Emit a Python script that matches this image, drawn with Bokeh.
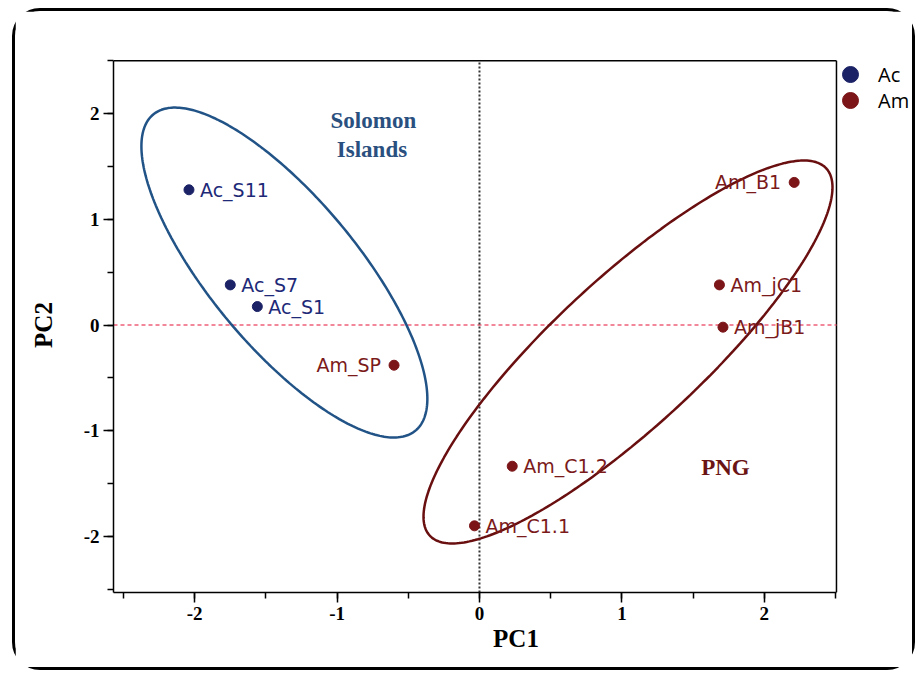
import numpy as np
from bokeh.plotting import figure
from bokeh.models import (ColumnDataSource, Legend, LegendItem,
                          SingleIntervalTicker, Range1d)
from bokeh.embed import file_html
from bokeh.resources import INLINE
from bokeh.core.properties import value

# ---------------- data ----------------
ac_names = ["Ac_S11", "Ac_S7", "Ac_S1"]
ac_pc1 = [-2.04, -1.75, -1.56]
ac_pc2 = [1.28, 0.38, 0.175]

am_names = ["Am_SP", "Am_B1", "Am_jC1", "Am_jB1", "Am_C1.2", "Am_C1.1"]
am_pc1 = [-0.60, 2.21, 1.685, 1.71, 0.23, -0.035]
am_pc2 = [-0.38, 1.35, 0.38, -0.02, -1.336, -1.90]
am_label_side = ["left", "left", "right", "right", "right", "right"]

# group ellipses: centre, half-extent along PC1 / PC2, correlation
ell_cx = [-1.37, 1.043]
ell_cy = [0.497, -0.255]
ell_ax = [1.004, 1.436]
ell_ay = [1.561, 1.812]
ell_r = [-0.765, 0.86]

group_text = ["Solomon", "Islands", "PNG"]
group_x = [-0.745, -0.755, 1.727]
group_y = [1.94, 1.665, -1.348]

legend_labels = ["Ac", "Am"]
x_ticks = [-2, -1, 0, 1, 2]
y_ticks = [-2, -1, 0, 1, 2]

# plotting box limits (PC units)
x_lo, x_hi = -2.57, 2.507
y_lo, y_hi = -2.531, 2.502

BLUE_PT = "#1b2266"
RED_PT = "#7b1518"
BLUE_ELL = "#215387"
RED_ELL = "#6a0f10"

p = figure(width=903, height=662,
           x_range=Range1d(x_lo, 3.083), y_range=Range1d(y_lo, 2.532),
           output_backend="svg", toolbar_location=None,
           min_border_left=98, min_border_right=0,
           min_border_top=46, min_border_bottom=81,
           margin=(8, 0, 0, 12))
p.styles = {"border": "3px solid black", "border-radius": "28px"}

p.xgrid.visible = False
p.ygrid.visible = False
p.outline_line_color = None
p.background_fill_color = "white"
p.border_fill_color = "white"

p.xaxis.ticker = SingleIntervalTicker(interval=1, num_minor_ticks=2)
p.yaxis.ticker = SingleIntervalTicker(interval=1, num_minor_ticks=2)
p.xaxis.bounds = (x_lo, x_hi)
p.yaxis.bounds = (y_lo, y_hi)
p.xaxis.major_label_overrides = {v: str(v) for v in x_ticks}
p.yaxis.major_label_overrides = {v: str(v) for v in y_ticks}
p.xaxis.axis_label = "PC1"
p.yaxis.axis_label = "PC2"
for ax in [p.xaxis[0], p.yaxis[0]]:
    ax.major_label_text_font = "Liberation Serif"
    ax.major_label_text_font_style = "bold"
    ax.major_label_text_font_size = "19px"
    ax.major_label_text_color = "black"
    ax.axis_label_text_font = "Liberation Serif"
    ax.axis_label_text_font_style = "bold"
    ax.axis_label_text_font_size = "25px"
    ax.axis_label_text_color = "black"
    ax.axis_line_width = 1.5
    ax.axis_line_color = "black"
    ax.major_tick_line_width = 1.5
    ax.minor_tick_line_width = 1.5
    ax.major_tick_line_color = "black"
    ax.minor_tick_line_color = "black"
    ax.major_tick_in = 0
    ax.major_tick_out = 10
    ax.minor_tick_in = 0
    ax.minor_tick_out = 6
    ax.major_label_standoff = 4
p.xaxis.axis_label_standoff = 2
p.yaxis.axis_label_standoff = 24

# box top and right edges
p.segment(x0=[x_lo, x_hi], y0=[y_hi, y_lo], x1=[x_hi, x_hi], y1=[y_hi, y_hi],
          line_color="black", line_width=1.5)

# zero reference lines
p.segment(x0=[x_lo], y0=[0], x1=[x_hi], y1=[0], line_color="#f0607a",
          line_dash="4 3", line_width=1.5)
p.segment(x0=[0], y0=[y_lo], x1=[0], y1=[y_hi], line_color="#333333",
          line_dash="2 2", line_width=2)

# ellipses
t = np.linspace(0, 2 * np.pi, 300)
for cx, cy, ax_, ay_, r, col in zip(ell_cx, ell_cy, ell_ax, ell_ay, ell_r,
                                     [BLUE_ELL, RED_ELL]):
    d = np.arccos(r)
    ex = cx + ax_ * np.cos(t)
    ey = cy + ay_ * np.cos(t - d)
    p.line(ex, ey, line_color=col, line_width=2.5)

# points
src_ac = ColumnDataSource(dict(x=ac_pc1, y=ac_pc2, name=ac_names))
src_am = ColumnDataSource(dict(x=am_pc1, y=am_pc2, name=am_names))
r_ac = p.scatter("x", "y", source=src_ac, size=10, color=BLUE_PT)
r_am = p.scatter("x", "y", source=src_am, size=10, color=RED_PT)

# point labels
p.text("x", "y", text="name", source=src_ac, x_offset=11,
       text_align="left", text_baseline="middle",
       text_font=value("DejaVu Sans"), text_font_size="19px",
       text_color="#1e2a78")
am_r = [i for i, s in enumerate(am_label_side) if s == "right"]
am_l = [i for i, s in enumerate(am_label_side) if s == "left"]
src_am_r = ColumnDataSource(dict(x=[am_pc1[i] for i in am_r],
                                 y=[am_pc2[i] for i in am_r],
                                 name=[am_names[i] for i in am_r]))
src_am_l = ColumnDataSource(dict(x=[am_pc1[i] for i in am_l],
                                 y=[am_pc2[i] for i in am_l],
                                 name=[am_names[i] for i in am_l]))
p.text("x", "y", text="name", source=src_am_r, x_offset=11,
       text_align="left", text_baseline="middle",
       text_font=value("DejaVu Sans"), text_font_size="19px",
       text_color="#7b1a1a")
p.text("x", "y", text="name", source=src_am_l, x_offset=-13,
       text_align="right", text_baseline="middle",
       text_font=value("DejaVu Sans"), text_font_size="19px",
       text_color="#7b1a1a")

# group labels
src_g = ColumnDataSource(dict(x=group_x, y=group_y, t=group_text,
                              c=["#2a5080", "#2a5080", "#6b1414"]))
p.text("x", "y", text="t", source=src_g, text_color="c",
       text_align="center", text_baseline="middle",
       text_font=value("Liberation Serif"), text_font_style="bold",
       text_font_size="23px")

# legend: one entry per Legend so the keys can sit close together
for lab, rend, loc in zip(legend_labels, [r_ac, r_am], [(717, 498), (717, 472)]):
    lg = Legend(items=[LegendItem(label=lab, renderers=[rend])],
                location=loc, glyph_width=40, glyph_height=40,
                spacing=0, padding=0, margin=0, label_standoff=8,
                border_line_alpha=0, background_fill_alpha=0,
                label_text_font="Open Sans", label_text_font_size="20px",
                label_text_color="black")
    p.add_layout(lg, "center")

open("out.html", "w").write(file_html(p, INLINE))
